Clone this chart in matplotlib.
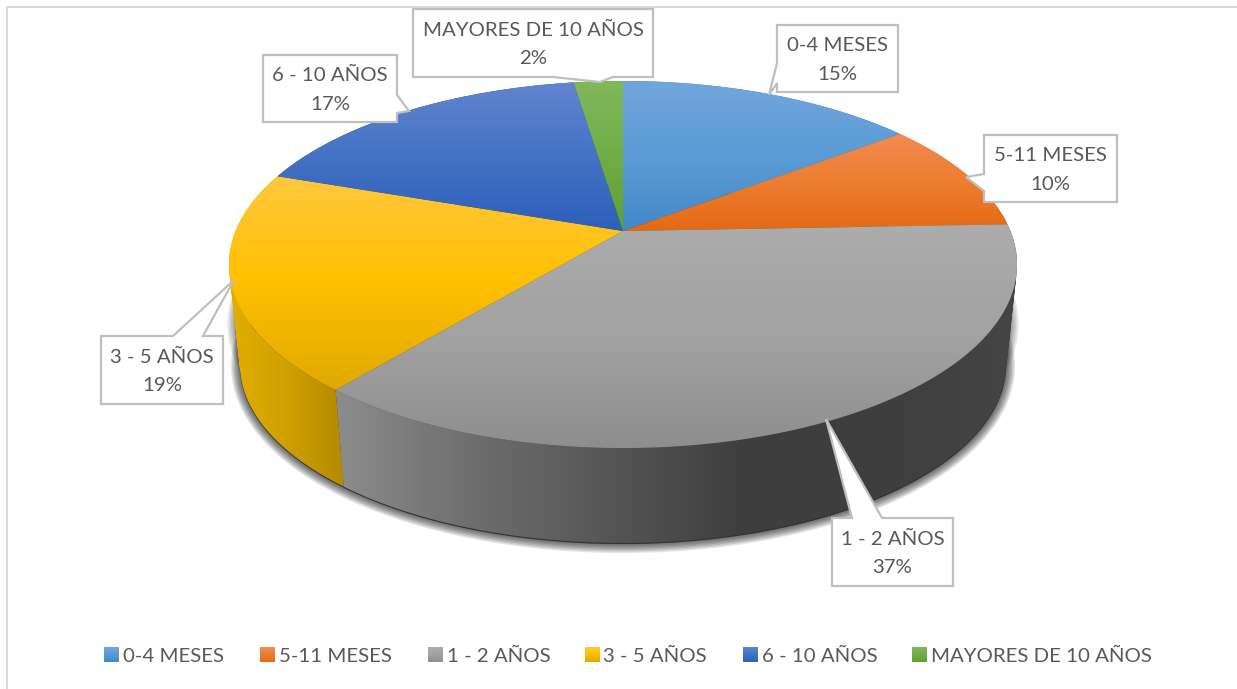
import numpy as np
import matplotlib
matplotlib.use('Agg')
import matplotlib.pyplot as plt
from matplotlib.colors import LinearSegmentedColormap
from matplotlib.patches import Polygon, PathPatch
from matplotlib.path import Path

# data (labels show rounded shares)
categories = ['0-4 MESES', '5-11 MESES', '1 - 2 AÑOS', '3 - 5 AÑOS', '6 - 10 AÑOS', 'MAYORES DE 10 AÑOS']
values = [14.6, 9.8, 36.6, 19.3, 17.3, 2.4]

# top gradients per slice (top colour, middle, bottom)
top_colors = [
    ['#70a6dd', '#5b9bd5', '#4189c9'],
    ['#f28c50', '#ed7d31', '#e46a14'],
    ['#acacac', '#a2a2a2', '#8e8e8e'],
    ['#ffc83d', '#ffc000', '#dfa900'],
    ['#6285cf', '#4472c4', '#2d60bb'],
    ['#80b85c', '#70ad47', '#61a033'],
]
# side wall gradients, left to right
wall_colors = [
    ['#4a7eb0', '#3a6a96'],
    ['#c0601f', '#a04f18'],
    ['#8c8c8c', '#6e6e6e', '#555555', '#3e3e3e', '#3e3e3e', '#454545'],
    ['#e2ae00', '#cfa000', '#b48a00'],
    ['#2d5299', '#24427d'],
    ['#5a8a38', '#4a732e'],
]

# pie geometry in pixels
CX = 623
TOP_Y = 231
BOTTOM_Y = 332
A = 387.4
B = 177.4
K = 0.1827
SHRINK = 0.972


def project(t, y0=TOP_Y, scale=1.0):
    # t is clockwise from 12 o'clock, tilted circle with some perspective
    u, v = np.sin(t), np.cos(t)
    w = 1 + K * v
    return CX + scale * A * u / w, y0 - scale * B * v / w


def gradient(ax, path, extent, colors, vertical=True):
    cmap = LinearSegmentedColormap.from_list('g', colors)
    ramp = np.linspace(0, 1, 256)
    ramp = ramp[:, None] if vertical else ramp[None, :]
    im = ax.imshow(ramp, cmap=cmap, vmin=0, vmax=1, extent=extent, aspect='auto',
                   interpolation='bilinear', origin='upper', zorder=3)
    patch = PathPatch(path, transform=ax.transData, fc='none', ec='none')
    ax.add_patch(patch)
    im.set_clip_path(patch)


def wall_path(t):
    # ruled strips between top and bottom rim, all wound the same way
    x1, y1 = project(t)
    x2, y2 = project(t, BOTTOM_Y, SHRINK)
    quads = []
    for j in range(len(t) - 1):
        q = np.array([[x1[j], y1[j]], [x1[j + 1], y1[j + 1]], [x2[j + 1], y2[j + 1]], [x2[j], y2[j]]])
        area = np.sum(q[:, 0] * np.roll(q[:, 1], -1) - np.roll(q[:, 0], -1) * q[:, 1])
        if area < 0:
            q = q[::-1]
        quads.append(Path(np.vstack([q, q[0]]), closed=True))
    return Path.make_compound_path(*quads)


fig = plt.figure(figsize=(12.37, 6.89), dpi=100)
ax = fig.add_axes([0, 0, 1, 1])
ax.set_xlim(0, 1237)
ax.set_ylim(689, 0)
ax.set_autoscale_on(False)
ax.axis('off')

plt.rcParams['font.family'] = ['Lato', 'DejaVu Sans']
TEXT = '#595959'
EDGE = '#bfbfbf'

# chart frame
ax.plot([7, 7, 1237], [689, 7, 7], color='#d9d9d9', lw=1.4, zorder=1)

edges = np.cumsum([0] + values) / sum(values) * 2 * np.pi

# soft shadow under the pie
t_all = np.linspace(0, 2 * np.pi, 400)
sx, sy = project(t_all, BOTTOM_Y + 1, SHRINK)
for lw in np.arange(1, 15, 2):
    ax.fill(sx, sy, fc='#000000', ec='#000000', lw=lw, alpha=0.11, zorder=2, joinstyle='round')
sx, sy = project(t_all, TOP_Y + 60, 0.985)
for lw in np.arange(1, 13, 2):
    ax.fill(sx, sy, fc='#000000', ec='#000000', lw=lw, alpha=0.07, zorder=2, joinstyle='round')

# side walls
for i in range(len(values)):
    t = np.linspace(edges[i], edges[i + 1], 120)
    p = wall_path(t)
    v = p.vertices
    extent = (v[:, 0].min(), v[:, 0].max(), v[:, 1].max(), v[:, 1].min())
    gradient(ax, p, extent, wall_colors[i], vertical=False)

# top faces
for i in range(len(values)):
    t = np.linspace(edges[i], edges[i + 1], 120)
    x1, y1 = project(t)
    xy = np.column_stack([np.r_[CX, x1, CX], np.r_[TOP_Y, y1, TOP_Y]])
    extent = (x1.min() - 1, x1.max() + 1, max(y1.max(), TOP_Y), min(y1.min(), TOP_Y))
    extent = (min(extent[0], CX), max(extent[1], CX), extent[2], extent[3])
    gradient(ax, Path(xy, closed=True), extent, top_colors[i])

# callouts: box (x0, y0, x1, y1) and pointer outline inserted in the box edge
callouts = [
    dict(box=(777, 25, 898, 92), side='left', ptr=[(777, 63), (769, 95), (777, 83)]),
    dict(box=(984, 135, 1117, 202), side='left', ptr=[(984, 174), (966, 177), (984, 191)]),
    dict(box=(832, 518, 953, 586), side='top', ptr=[(852, 518), (826, 419), (882, 518)]),
    dict(box=(101, 336, 223, 404), side='top', ptr=[(173, 336), (234, 280), (203, 336)]),
    dict(box=(263, 55, 397, 122), side='right', ptr=[(397, 95), (409, 111), (397, 113)]),
    dict(box=(413, 9, 653, 77), side='bottom', ptr=[(613, 77), (600, 82), (553, 77)]),
]

total = sum(values)
for name, val, c in zip(categories, values, callouts):
    x0, y0, x1, y1 = c['box']
    # walk the box clockwise from the top left corner
    if c['side'] == 'top':
        pts = [(x0, y0)] + c['ptr'] + [(x1, y0), (x1, y1), (x0, y1)]
    elif c['side'] == 'right':
        pts = [(x0, y0), (x1, y0)] + c['ptr'] + [(x1, y1), (x0, y1)]
    elif c['side'] == 'bottom':
        pts = [(x0, y0), (x1, y0), (x1, y1)] + c['ptr'] + [(x0, y1)]
    else:
        pts = [(x0, y0), (x1, y0), (x1, y1), (x0, y1)] + c['ptr'][::-1]
    ax.add_patch(Polygon(pts, closed=True, fc='white', ec=EDGE, lw=1.6, zorder=5, joinstyle='miter'))
    ax.text((x0 + x1) / 2, (y0 + y1) / 2 + 1.5, f'{name}\n{round(val / total * 100)}%',
            ha='center', va='center', fontsize=14.7, color=TEXT, linespacing=1.8, zorder=6)

# legend
swatch_x = [104, 260, 428, 585, 743, 912]
legend_text_x = [123, 279, 447, 603, 762, 931]
for i, name in enumerate(categories):
    sw = Path([(swatch_x[i], 647), (swatch_x[i] + 15, 647), (swatch_x[i] + 15, 662),
               (swatch_x[i], 662), (swatch_x[i], 647)], closed=True)
    gradient(ax, sw, (swatch_x[i], swatch_x[i] + 15, 662, 647), top_colors[i])
    ax.text(legend_text_x[i], 656, name, ha='left', va='center', fontsize=14.7, color=TEXT, zorder=6)

fig.savefig('out.png', dpi=100, facecolor='white')
